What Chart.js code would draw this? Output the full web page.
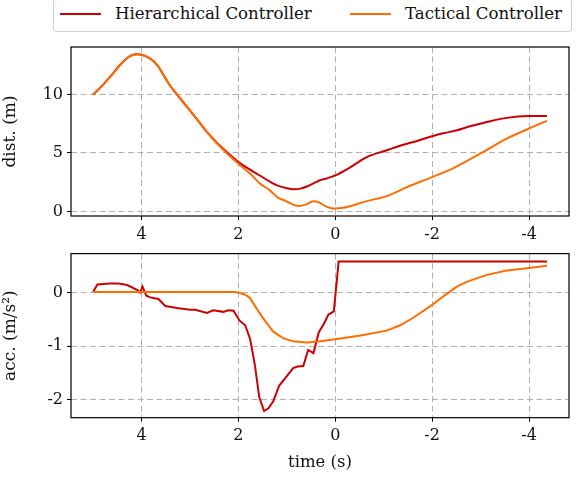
<!DOCTYPE html>
<html>
<head>
<meta charset="utf-8">
<script src="https://cdn.jsdelivr.net/npm/chart.js@4.4.1/dist/chart.umd.min.js"></script>
<style>
  body { margin: 0; background: #fff; }
  #wrap { position: relative; width: 579px; height: 478px; overflow: hidden; font-family: 'DejaVu Serif', serif; }
  .cv { position: absolute; left: 0; }
  #legend {
    position: absolute; left: 53px; top: -1px; width: 517px; height: 31px;
    border: 1px solid #d0d0d0; border-radius: 3px; background: #fff;
    font-size: 16.6px; line-height: 20px; color: #111;
  }
  .item { position: absolute; top: 4px; white-space: nowrap; }
  .swatch { position: absolute; top: 13px; width: 41px; height: 2px; }
</style>
</head>
<body>
<div id="wrap">
  <div class="cv" style="top:0;width:579px;height:240px"><canvas id="top"></canvas></div>
  <div class="cv" style="top:240px;width:579px;height:238px"><canvas id="bot"></canvas></div>
  <div id="legend">
    <div class="swatch" style="left:6px;background:#cc0000"></div>
    <div class="item" style="left:61px">Hierarchical Controller</div>
    <div class="swatch" style="left:296px;background:#ff6d00"></div>
    <div class="item" style="left:351px">Tactical Controller</div>
  </div>
</div>
<script>
const HIER_COLOR = '#cc0000';
const TACT_COLOR = '#ff6d00';

const xTicks = [4, 2, 0, -2, -4];
const distTicks = [0, 5, 10];
const accTicks = [0, -1, -2];

// distance, hierarchical controller
const hierDistT = [5.0, 4.8, 4.61, 4.45, 4.3, 4.2, 4.09, 3.98, 3.89, 3.75, 3.65, 3.55, 3.44, 3.25, 3.06, 2.85, 2.65, 2.45, 2.24, 2.0, 1.75, 1.55, 1.35, 1.2, 1.0, 0.86, 0.72, 0.55, 0.4, 0.33, 0.18, 0.0, -0.3, -0.65, -1.0, -1.34, -1.7, -2.0, -2.25, -2.51, -2.8, -3.13, -3.54, -4.0, -4.37];
const hierDist  = [10.0, 10.8, 11.7, 12.5, 13.1, 13.35, 13.43, 13.38, 13.22, 12.85, 12.37, 11.7, 10.94, 9.9, 8.94, 7.85, 6.8, 5.9, 5.08, 4.22, 3.55, 3.05, 2.55, 2.23, 1.98, 1.89, 1.95, 2.2, 2.5, 2.65, 2.82, 3.08, 3.75, 4.65, 5.15, 5.62, 6.05, 6.43, 6.7, 6.94, 7.3, 7.65, 8.0, 8.15, 8.16];

// distance, tactical controller
const tactDistT = [5.0, 4.8, 4.61, 4.45, 4.3, 4.2, 4.09, 3.98, 3.89, 3.75, 3.65, 3.55, 3.44, 3.25, 3.06, 2.85, 2.65, 2.45, 2.24, 2.0, 1.75, 1.55, 1.35, 1.2, 1.0, 0.88, 0.76, 0.6, 0.45, 0.35, 0.2, 0.05, -0.17, -0.65, -1.06, -1.48, -2.0, -2.44, -2.99, -3.54, -4.0, -4.37];
const tactDist  = [10.0, 10.8, 11.7, 12.5, 13.1, 13.35, 13.43, 13.38, 13.22, 12.85, 12.37, 11.7, 10.94, 9.9, 8.94, 7.85, 6.8, 5.85, 4.98, 4.08, 3.2, 2.37, 1.8, 1.23, 0.85, 0.6, 0.46, 0.6, 0.88, 0.8, 0.45, 0.25, 0.32, 0.88, 1.31, 2.08, 2.94, 3.71, 4.94, 6.23, 7.09, 7.74];

// acceleration, hierarchical controller
const hierAccT = [5.0, 4.91, 4.65, 4.47, 4.3, 4.09, 4.03, 3.98, 3.9, 3.82, 3.65, 3.51, 3.27, 3.0, 2.89, 2.65, 2.52, 2.31, 2.21, 2.1, 1.98, 1.86, 1.76, 1.66, 1.57, 1.47, 1.38, 1.28, 1.16, 1.0, 0.87, 0.78, 0.66, 0.56, 0.45, 0.34, 0.24, 0.14, 0.03, -0.07, -4.37];
const hierAcc  = [0.01, 0.15, 0.17, 0.17, 0.14, 0.05, 0.0, 0.11, -0.06, -0.09, -0.12, -0.25, -0.29, -0.32, -0.32, -0.38, -0.33, -0.36, -0.33, -0.34, -0.52, -0.61, -0.86, -1.35, -1.95, -2.21, -2.16, -2.03, -1.74, -1.56, -1.41, -1.38, -1.37, -1.07, -1.13, -0.74, -0.59, -0.41, -0.35, 0.58, 0.58];

// acceleration, tactical controller
const tactAccT = [5.0, 2.1, 2.0, 1.86, 1.76, 1.63, 1.45, 1.28, 1.08, 0.87, 0.59, 0.3, 0.0, -0.52, -1.06, -1.34, -1.61, -2.0, -2.23, -2.51, -2.71, -3.13, -3.54, -4.0, -4.37];
const tactAcc  = [0.01, 0.01, 0.0, -0.04, -0.1, -0.29, -0.53, -0.73, -0.85, -0.91, -0.93, -0.91, -0.87, -0.8, -0.71, -0.61, -0.47, -0.23, -0.07, 0.11, 0.2, 0.33, 0.41, 0.46, 0.5];

const FONT = "'DejaVu Serif', serif";
const pts = (xs, ys) => xs.map((x, i) => ({ x, y: ys[i] }));
const fmt = (v) => String(v);

// black box round the plot area
const frame = {
  id: 'frame',
  afterDraw(chart) {
    const a = chart.chartArea, c = chart.ctx;
    c.save();
    c.strokeStyle = '#000';
    c.lineWidth = 1.2;
    c.strokeRect(a.left, a.top, a.right - a.left, a.bottom - a.top);
    c.restore();
  }
};

function makeChart(id, cfg) {
  return new Chart(document.getElementById(id), {
    type: 'line',
    data: {
      datasets: [
        { data: cfg.hier, borderColor: HIER_COLOR, borderWidth: 2, pointRadius: 0, order: 1,
          tension: 0, cubicInterpolationMode: cfg.smooth ? 'monotone' : 'default' },
        { data: cfg.tact, borderColor: TACT_COLOR, borderWidth: 2, pointRadius: 0, order: 0,
          tension: 0, cubicInterpolationMode: cfg.smooth ? 'monotone' : 'default' }
      ]
    },
    options: {
      responsive: true,
      maintainAspectRatio: false,
      animation: false,
      layout: { padding: { top: cfg.padTop, right: 10, left: 0, bottom: 0 } },
      plugins: { legend: { display: false }, tooltip: { enabled: false } },
      scales: {
        x: {
          type: 'linear', reverse: true, min: -4.825, max: 5.456,
          afterBuildTicks: (s) => { s.ticks = xTicks.map(v => ({ value: v })); },
          afterFit: (s) => { s.height = cfg.xHeight; },
          grid: { color: '#b0b0b0', lineWidth: 1, tickLength: 4, tickColor: '#000', tickBorderDash: [1, 0] },
          border: { display: false, dash: [6, 3.5] },
          ticks: { color: '#111', font: { family: FONT, size: 16 }, padding: 5, maxRotation: 0, callback: fmt },
          title: cfg.xTitle ? { display: true, text: cfg.xTitle, color: '#111', font: { family: FONT, size: 16.5 }, padding: { top: 0, bottom: 5 } } : { display: false }
        },
        y: {
          min: cfg.yMin, max: cfg.yMax,
          afterBuildTicks: (s) => { s.ticks = cfg.yTicks.map(v => ({ value: v })); },
          afterFit: (s) => { s.width = 71; },
          grid: { color: '#b0b0b0', lineWidth: 1, tickLength: 4, tickColor: '#000', tickBorderDash: [1, 0] },
          border: { display: false, dash: [6, 3.5] },
          ticks: { color: '#111', font: { family: FONT, size: 16 }, padding: 4, callback: fmt },
          title: { display: true, text: cfg.yTitle, color: '#111', font: { family: FONT, size: 17 }, padding: { top: 0, bottom: 15 } }
        }
      }
    },
    plugins: [frame]
  });
}

makeChart('top', {
  hier: pts(hierDistT, hierDist), tact: pts(tactDistT, tactDist), smooth: true,
  yMin: -0.39, yMax: 14.06, yTicks: distTicks, yTitle: 'dist. (m)',
  padTop: 47, xHeight: 24
});

makeChart('bot', {
  hier: pts(hierAccT, hierAcc), tact: pts(tactAccT, tactAcc), smooth: false,
  yMin: -2.335, yMax: 0.727, yTicks: accTicks, yTitle: 'acc. (m/s\u00b2)',
  padTop: 9.3, xHeight: 60.3, xTitle: 'time (s)'
});
</script>
</body>
</html>
